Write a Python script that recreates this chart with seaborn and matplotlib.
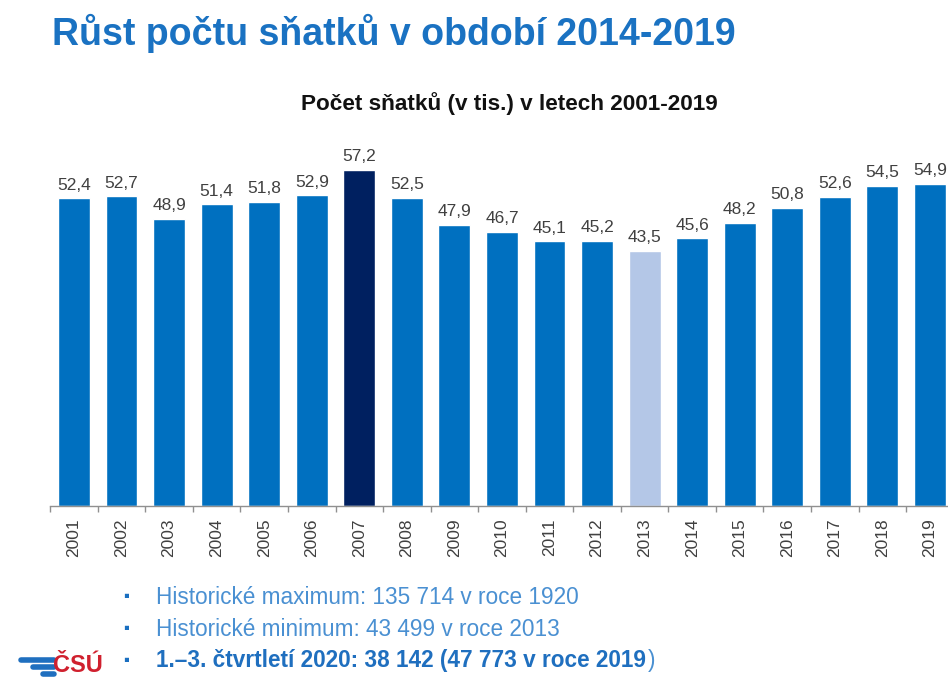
import matplotlib
matplotlib.use('Agg')
import matplotlib.pyplot as plt
from matplotlib.lines import Line2D
import seaborn as sns
import pandas as pd

years = [str(y) for y in range(2001, 2020)]
marriages = [52.4, 52.7, 48.9, 51.4, 51.8, 52.9, 57.2, 52.5, 47.9, 46.7,
             45.1, 45.2, 43.5, 45.6, 48.2, 50.8, 52.6, 54.5, 54.9]
highlight_max = '2007'
highlight_min = '2013'

title = 'Růst počtu sňatků v období 2014-2019'
subtitle = 'Počet sňatků (v tis.) v letech 2001-2019'
notes = ['Historické maximum: 135 714 v roce 1920',
         'Historické minimum: 43 499 v roce 2013']
note_bold = '1.–3. čtvrtletí 2020: 38 142 (47 773 v roce 2019'

df = pd.DataFrame({'year': years, 'value': marriages})

palette = {y: '#0070C0' for y in years}
palette[highlight_max] = '#002060'
palette[highlight_min] = '#B4C7E7'

sns.set_theme(style='white')
plt.rcParams['font.family'] = ['Liberation Sans', 'DejaVu Sans']

fig = plt.figure(figsize=(9.48, 6.79), dpi=100)
ax = fig.add_axes([0.053, 0.2548, 0.953, 0.519])

sns.barplot(data=df, x='year', y='value', hue='year', palette=palette,
            width=0.67, legend=False, ax=ax, saturation=1)

for cont in ax.containers:
    ax.bar_label(cont, labels=[f'{v:.1f}'.replace('.', ',') for v in cont.datavalues],
                 padding=4, fontsize=12.5, color='#404040')

ax.set_ylim(0, 60)
ax.set_xlim(-0.5, len(years) - 0.5)
ax.set_xlabel('')
ax.set_ylabel('')
ax.set_yticks([])
sns.despine(ax=ax, left=True)
ax.spines['bottom'].set_color('#909090')
ax.spines['bottom'].set_linewidth(1.0)

ax.set_xticks(range(len(years)))
ax.set_xticklabels(years, rotation=90, fontsize=12.5, color='#404040')
ax.set_xticks([i - 0.5 for i in range(len(years) + 1)], minor=True)
ax.tick_params(axis='x', which='major', length=0, pad=9)
ax.tick_params(axis='x', which='minor', length=4, color='#909090', width=1,
               direction='out', bottom=True)

# headings
fig.text(0.055, 0.951, title, fontsize=27, fontweight='bold', color='#1A72C2',
         ha='left', va='center')
fig.text(0.537, 0.848, subtitle, fontsize=16.2, fontweight='bold', color='#111111',
         ha='center', va='center')

# bullet notes
note_y = [1 - 597 / 679, 1 - 629 / 679]
for y, txt in zip(note_y, notes):
    fig.text(0.133, y, '▪', fontsize=12, color='#1A6FC0', ha='center', va='center')
    fig.text(0.165, y, txt, fontsize=16.3, color='#4A90D2', ha='left', va='center')

y3 = 1 - 661 / 679
fig.text(0.133, y3, '▪', fontsize=12, color='#1A6FC0', ha='center', va='center')
t3 = fig.text(0.165, y3, note_bold, fontsize=16.3, fontweight='bold', color='#1F6FBF',
              ha='left', va='center')
ax.annotate(')', xy=(1, 0.5), xycoords=t3, xytext=(1, 0), textcoords='offset points',
            fontsize=16.3, color='#4A90D2', ha='left', va='center', annotation_clip=False)

# logo
fig.text(0.056, 0.003, 'ČSÚ', fontsize=17, fontweight='bold', color='#D0202E',
         ha='left', va='bottom')
for yy, x0 in [(0.028, 0.022), (0.018, 0.035), (0.008, 0.045)]:
    fig.add_artist(Line2D([x0, 0.057], [yy, yy], color='#1F6FBF', lw=4,
                          transform=fig.transFigure))

fig.savefig('out.png', dpi=100)
